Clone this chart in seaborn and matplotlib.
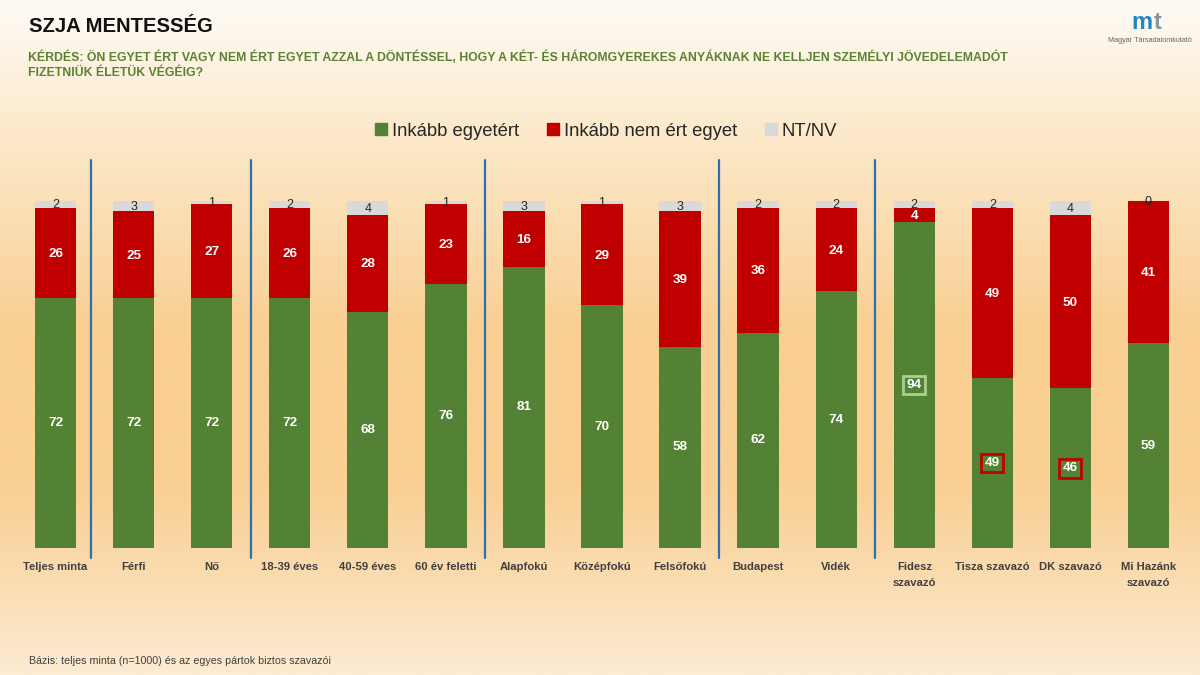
import numpy as np
import pandas as pd
import matplotlib
matplotlib.use("Agg")
import matplotlib.pyplot as plt
from matplotlib.patches import Patch
from matplotlib.colors import LinearSegmentedColormap
import seaborn as sns

# ---- data ----
categories = ["Teljes minta", "Férfi", "Nő", "18-39 éves", "40-59 éves", "60 év feletti",
              "Alapfokú", "Középfokú", "Felsőfokú", "Budapest", "Vidék",
              "Fidesz\nszavazó", "Tisza szavazó", "DK szavazó", "Mi Hazánk\nszavazó"]
agree = [72, 72, 72, 72, 68, 76, 81, 70, 58, 62, 74, 94, 49, 46, 59]
disagree = [26, 25, 27, 26, 28, 23, 16, 29, 39, 36, 24, 4, 49, 50, 41]
dk = [2, 3, 1, 2, 4, 1, 3, 1, 3, 2, 2, 2, 2, 4, 0]
series_names = ["Inkább egyetért", "Inkább nem ért egyet", "NT/NV"]
highlight = {"Fidesz\nszavazó": "#a9d18e", "Tisza szavazó": "#c00000", "DK szavazó": "#c00000"}
group_bounds = [0.45, 2.5, 5.5, 8.5, 10.5]

GREEN, RED, GRAY = "#548235", "#c00000", "#d9d9d9"
FONT = ["Liberation Sans", "DejaVu Sans"]

sns.set_theme(style="white")
plt.rcParams["font.family"] = FONT

df = pd.DataFrame({"cat": categories, "agree": agree, "disagree": disagree, "dk": dk})
df["c2"] = df["agree"] + df["disagree"]
df["c3"] = df["c2"] + df["dk"]

fig = plt.figure(figsize=(12, 6.75), dpi=100)

# background gradient
bg = fig.add_axes([0, 0, 1, 1], zorder=-10)
cmap = LinearSegmentedColormap.from_list("bg", [
    (0.0, "#fefbf6"), (0.22, "#fce7c6"), (0.49, "#f9cf92"), (0.71, "#f9cf92"),
    (0.83, "#fad9aa"), (1.0, "#fdebd2")])
grad = np.linspace(0, 1, 256).reshape(-1, 1)
bg.imshow(grad, aspect="auto", cmap=cmap, extent=[0, 1, 0, 1], origin="upper")
bg.set_axis_off()

ax = fig.add_axes([16.5 / 1200, 127 / 675, 1171 / 1200, 388 / 675])
ax.patch.set_alpha(0)

order = categories
sns.barplot(data=df, x="cat", y="c3", color=GRAY, order=order, width=0.53, ax=ax,
            saturation=1, linewidth=0)
sns.barplot(data=df, x="cat", y="c2", color=RED, order=order, width=0.53, ax=ax,
            saturation=1, linewidth=0)
sns.barplot(data=df, x="cat", y="agree", color=GREEN, order=order, width=0.53, ax=ax,
            saturation=1, linewidth=0)

ax.set_xlim(-0.5, len(categories) - 0.5)
ax.set_ylim(0, 111.8)
ax.set_xlabel("")
ax.set_ylabel("")
ax.set_yticks([])
for s in ax.spines.values():
    s.set_visible(False)
ax.tick_params(axis="x", length=0, pad=10)
ax.set_xticks(range(len(categories)))
ax.set_xticklabels(categories, fontsize=8.1, color="#404040", fontweight="bold",
                   linespacing=1.75, va="top")

for i, row in df.iterrows():
    kw = dict(ha="center", va="center", color="white", fontweight="bold", fontsize=9.7)
    bbox = None
    if row["cat"] in highlight:
        bbox = dict(boxstyle="square,pad=0.25", fc="none", ec=highlight[row["cat"]], lw=2)
    ax.text(i, row["agree"] / 2, f"{row['agree']}", bbox=bbox, **kw)
    ax.text(i, row["agree"] + row["disagree"] / 2 - 0.3, f"{row['disagree']}", **kw)
    ax.text(i, row["c2"] + row["dk"] / 2 - 0.2, f"{row['dk']}", ha="center",
            va="center", color="#262626", fontsize=9)

for b in group_bounds:
    ax.plot([b, b], [-2.9, 111.8], color="#2f6eae", lw=1.6, clip_on=False)

# legend
handles = [Patch(color=c, label=n) for c, n in zip([GREEN, RED, GRAY], series_names)]
fig.legend(handles=handles, loc="center", bbox_to_anchor=(0.505, 1 - 131 / 675), ncol=3,
           frameon=False, fontsize=13.3, handlelength=0.65, handleheight=0.65,
           handletextpad=0.28, columnspacing=1.5, labelcolor="#262626")

# titles
fig.text(29 / 1200, 1 - 27 / 675, "SZJA MENTESSÉG", fontsize=14.6, fontweight="bold",
         color="#111111", va="center", ha="left")
fig.text(28 / 1200, 1 - 57 / 675,
         "KÉRDÉS: ÖN EGYET ÉRT VAGY NEM ÉRT EGYET AZZAL A DÖNTÉSSEL, HOGY A KÉT- ÉS HÁROMGYEREKES ANYÁKNAK NE KELLJEN SZEMÉLYI JÖVEDELEMADÓT",
         fontsize=8.85, fontweight="bold", color="#5b8232", va="center", ha="left")
fig.text(28 / 1200, 1 - 73 / 675, "FIZETNIÜK ÉLETÜK VÉGÉIG?", fontsize=8.85,
         fontweight="bold", color="#5b8232", va="center", ha="left")

# footer
fig.text(29 / 1200, 1 - 661 / 675,
         "Bázis: teljes minta (n=1000) és az egyes pártok biztos szavazói",
         fontsize=7.65, color="#404040", va="center", ha="left")

# logo
fig.text(1142 / 1200, 1 - 29 / 675, "m", fontsize=17, fontweight="bold", color="#1f86c6",
         ha="center", va="baseline")
fig.text(1158 / 1200, 1 - 29 / 675, "t", fontsize=17, fontweight="bold", color="#8a959c",
         ha="center", va="baseline")
fig.text(1150 / 1200, 1 - 40 / 675, "Magyar Társadalomkutató", fontsize=5.2, color="#666666",
         ha="center", va="center")

fig.savefig("out.png", dpi=100)
